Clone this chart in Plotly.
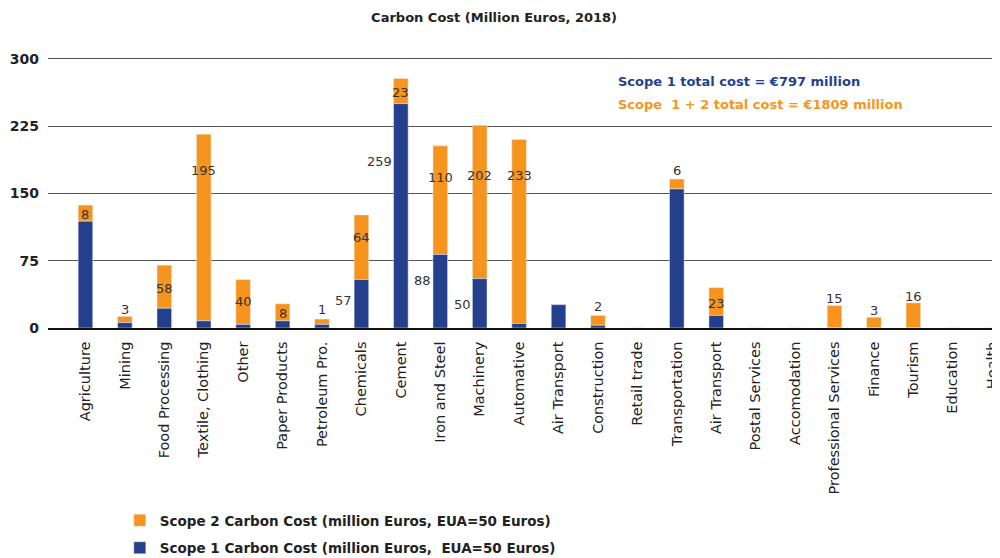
import plotly.graph_objects as go

categories = ["Agriculture", "Mining", "Food Processing", "Textile, Clothing", "Other",
              "Paper Products", "Petroleum Pro.", "Chemicals", "Cement", "Iron and Steel",
              "Machinery", "Automative", "Air Transport", "Construction", "Retail trade",
              "Transportation", "Air Transport", "Postal Services", "Accomodation",
              "Professional Services", "Finance", "Tourism", "Education", "Health"]

scope1 = [119, 6, 22, 8, 4, 8, 4, 54, 250, 82, 55, 5, 26, 3, 0, 155, 14, 0, 0, 0, 0, 0, 0, 0]
scope2 = [18, 7, 48, 208, 50, 19, 6, 72, 28, 121, 171, 205, 0, 11, 0, 11, 31, 0, 0, 25, 12, 28, 0, 0]

# value labels as printed on the chart
scope2_labels = ["8", "3", "58", "195", "40", "8", "1", "64", "23", "110", "202", "233", "", "2", "",
                 "6", "23", "", "", "15", "3", "16", "", ""]
scope2_label_y = [127, 21, 44, 175, 29, 16, 21, 101, 262, 168, 170, 170, None, 24, None,
                  176, 27, None, None, 33, 19, 35, None, None]
scope1_labels = ["", "", "", "", "", "", "", "57", "259", "88", "50", "", "", "", "",
                 "", "", "", "", "", "", "", "", ""]
scope1_label_y = [None, None, None, None, None, None, None, 31, 185, 53, 26, None, None, None, None,
                  None, None, None, None, None, None, None, None, None]

y_ticks = [0, 75, 150, 225, 300]

BLUE = "#243F8C"
ORANGE = "#F7941D"
FONT = "DejaVu Sans"

idx = list(range(len(categories)))

fig = go.Figure()
fig.add_trace(go.Bar(x=idx, y=scope2, base=scope1, name="Scope 2 Carbon Cost (million Euros, EUA=50 Euros)",
                     marker_color=ORANGE, legendgroup="s2"))
fig.add_trace(go.Bar(x=idx, y=scope1, name="Scope 1 Carbon Cost (million Euros,  EUA=50 Euros)",
                     marker_color=BLUE, legendgroup="s1"))

annotations = []
for i, (t, y) in enumerate(zip(scope2_labels, scope2_label_y)):
    if t and y is not None:
        annotations.append(dict(x=i, y=y, xref="x", yref="y", text=t, showarrow=False,
                                font=dict(family=FONT, size=13, color="#333333")))
for i, (t, y) in enumerate(zip(scope1_labels, scope1_label_y)):
    if t and y is not None:
        annotations.append(dict(x=i, y=y, xref="x", yref="y", text=t, showarrow=False,
                                xanchor="right", xshift=-7,
                                font=dict(family=FONT, size=13, color="#333333")))

annotations.append(dict(x=0.601, y=0.908, xref="paper", yref="paper", xanchor="left", yanchor="middle",
                        text="Scope 1 total cost = €797 million", showarrow=False,
                        font=dict(family=FONT, size=13, color=BLUE, weight="bold")))
annotations.append(dict(x=0.601, y=0.823, xref="paper", yref="paper", xanchor="left", yanchor="middle",
                        text="Scope  1 + 2 total cost = €1809 million", showarrow=False,
                        font=dict(family=FONT, size=13, color=ORANGE, weight="bold")))

# the page body adds an 8px margin, so the figure is sized to fit the 1000x558 window
fig.update_layout(
    width=992, height=550,
    barmode="overlay",
    bargap=0.63,
    plot_bgcolor="white", paper_bgcolor="white",
    margin=dict(l=40, r=7, t=49, b=230, autoexpand=False),
    title=dict(text="Carbon Cost (Million Euros, 2018)", x=0.49, xref="container", y=0.982, yref="container",
               xanchor="center", yanchor="middle",
               font=dict(family=FONT, size=13, color="#222222", weight="bold")),
    font=dict(family=FONT, color="#222222"),
    legend=dict(x=0.076, y=-0.653, xanchor="left", yanchor="top", orientation="v",
                traceorder="grouped", tracegroupgap=7,
                font=dict(family=FONT, size=13.5, color="#222222", weight="bold")),
    annotations=annotations,
)
fig.update_xaxes(
    tickmode="array", tickvals=idx, ticktext=categories, tickangle=-90,
    range=[-0.95, 23.02], showgrid=False, showline=True, linecolor="#111111", linewidth=1.5,
    ticks="", ticklabelstandoff=6,
    tickfont=dict(family=FONT, size=14.5, color="#222222"),
)
fig.update_yaxes(
    range=[0, 302], tickvals=y_ticks, showgrid=True, gridcolor="#555555", gridwidth=1.3,
    zeroline=False, showline=False, ticks="", ticklabelstandoff=8,
    tickfont=dict(family=FONT, size=14, color="#222222", weight="bold"),
)

fig.write_html("out.html")
